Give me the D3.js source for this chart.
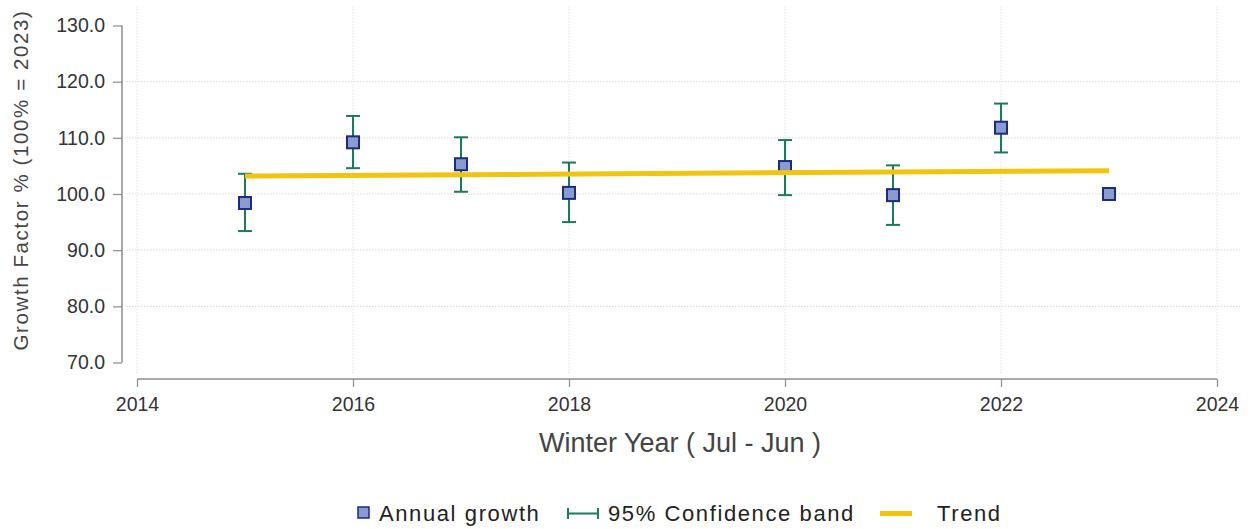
<!DOCTYPE html>
<html>
<head>
<meta charset="utf-8">
<script src="https://cdn.jsdelivr.net/npm/d3@7"></script>
<style>
  html, body { margin: 0; padding: 0; background: #fff; }
  svg { display: block; font-family: "Liberation Sans", Arial, sans-serif; }
</style>
</head>
<body>
<svg id="chart" width="1255" height="529"></svg>
<script>
// Winter years (Jul - Jun) and annual growth factors, 100% = 2023
const years = [2015, 2016, 2017, 2018, 2020, 2021, 2022, 2023];
const growth = [98.4, 109.2, 105.3, 100.2, 104.8, 99.8, 111.8, 100.0];
const ciLow  = [93.4, 104.6, 100.4, 95.0, 99.8, 94.5, 107.4, null];
const ciHigh = [103.6, 113.9, 110.1, 105.6, 109.6, 105.1, 116.1, null];
// Linear trend endpoints
const trendYears = [2015, 2023];
const trendValues = [103.2, 104.15];
const xTicks = [2014, 2016, 2018, 2020, 2022, 2024];
const yTicks = [70, 80, 90, 100, 110, 120, 130];

const svg = d3.select("#chart");
const FONT = "'Liberation Sans', Arial, sans-serif";

const x = d3.scaleLinear().domain([2014, 2024]).range([137, 1217]);
const y = d3.scaleLinear().domain([70, 130]).range([362.5, 25.5]);

// Grid
const grid = svg.append("g");
grid.selectAll("line.h").data(yTicks.filter(v => v > 70 && v < 130)).join("line")
  .attr("x1", 126).attr("x2", 1240)
  .attr("y1", d => y(d)).attr("y2", d => y(d))
  .attr("stroke", "#dcdcdc").attr("stroke-width", 1.2).attr("stroke-dasharray", "1.5,1.5");
grid.selectAll("line.v").data(xTicks).join("line")
  .attr("x1", d => x(d)).attr("x2", d => x(d))
  .attr("y1", 6).attr("y2", 374)
  .attr("stroke", "#e8e8e8").attr("stroke-width", 1.2).attr("stroke-dasharray", "1.5,1.5");

// Axes
const yAxis = svg.append("g").attr("transform", "translate(122,0)")
  .call(d3.axisLeft(y).tickValues(yTicks).tickFormat(d3.format(".1f")).tickSize(9).tickPadding(8));
const xAxis = svg.append("g").attr("transform", "translate(0,379)")
  .call(d3.axisBottom(x).tickValues(xTicks).tickFormat(d3.format("d")).tickSize(8).tickPadding(10));
[yAxis, xAxis].forEach(a => {
  a.selectAll("path.domain").attr("stroke", "#8c8c8c").attr("stroke-width", 1.5);
  a.selectAll(".tick line").attr("stroke", "#8c8c8c").attr("stroke-width", 1.2);
  a.selectAll(".tick text").attr("fill", "#333").style("font-size", "19.5px").style("font-family", FONT);
});
xAxis.select("path.domain").attr("d", `M${x(2014)},0H${x(2024)}`);
yAxis.select("path.domain").attr("d", `M0,${y(70)}V${y(130)}`);

// Axis titles
svg.append("text").attr("x", 680).attr("y", 452).attr("text-anchor", "middle")
  .attr("fill", "#444").style("font-size", "27px").text("Winter Year ( Jul - Jun )");
svg.append("text").attr("transform", "translate(28,180) rotate(-90)").attr("text-anchor", "middle")
  .attr("fill", "#444").style("font-size", "20.5px").style("letter-spacing", "1.6px")
  .text("Growth Factor % (100% = 2023)");

// Confidence bands
const green = "#1b7a57";
const ci = years.map((yr, i) => ({ yr, lo: ciLow[i], hi: ciHigh[i] })).filter(d => d.lo != null);
const eb = svg.append("g").attr("stroke", green).attr("stroke-width", 2);
eb.selectAll("line.stem").data(ci).join("line")
  .attr("x1", d => x(d.yr)).attr("x2", d => x(d.yr)).attr("y1", d => y(d.lo)).attr("y2", d => y(d.hi));
eb.selectAll("line.top").data(ci).join("line")
  .attr("x1", d => x(d.yr) - 7).attr("x2", d => x(d.yr) + 7).attr("y1", d => y(d.hi)).attr("y2", d => y(d.hi));
eb.selectAll("line.bot").data(ci).join("line")
  .attr("x1", d => x(d.yr) - 7).attr("x2", d => x(d.yr) + 7).attr("y1", d => y(d.lo)).attr("y2", d => y(d.lo));

// Annual growth markers
const pts = years.map((yr, i) => ({ yr, v: growth[i] }));
svg.append("g").selectAll("rect").data(pts).join("rect")
  .attr("x", d => x(d.yr) - 6).attr("y", d => y(d.v) - 6).attr("width", 12).attr("height", 12)
  .attr("fill", "#8a9bd0").attr("stroke", "#1c2a80").attr("stroke-width", 2);

// Trend
svg.append("path")
  .datum(trendYears.map((yr, i) => [yr, trendValues[i]]))
  .attr("d", d3.line().x(d => x(d[0])).y(d => y(d[1])))
  .attr("stroke", "#f1c40f").attr("stroke-width", 5).attr("fill", "none");

// Legend
const lg = svg.append("g").style("font-size", "22px").style("letter-spacing", "1.6px").attr("fill", "#222");
lg.append("rect").attr("x", 358).attr("y", 507).attr("width", 11).attr("height", 11)
  .attr("fill", "#8a9bd0").attr("stroke", "#1c2a80").attr("stroke-width", 1.5);
lg.append("text").attr("x", 379).attr("y", 521).text("Annual growth");
lg.append("path").attr("d", "M568,508V519M568,513.5H598M598,508V519")
  .attr("stroke", green).attr("stroke-width", 2).attr("fill", "none");
lg.append("text").attr("x", 608).attr("y", 521).text("95% Confidence band");
lg.append("line").attr("x1", 880).attr("x2", 912).attr("y1", 513.5).attr("y2", 513.5)
  .attr("stroke", "#f1c40f").attr("stroke-width", 5);
lg.append("text").attr("x", 937).attr("y", 521).text("Trend");
</script>
</body>
</html>
